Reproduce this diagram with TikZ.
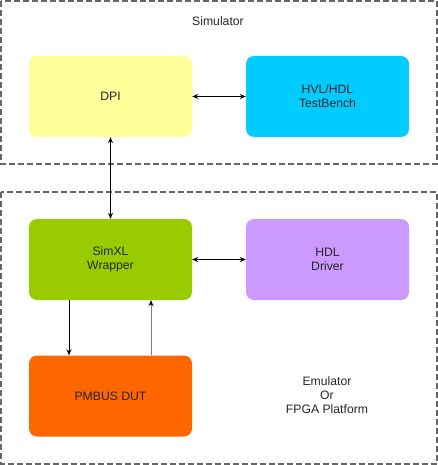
\documentclass[tikz,border=0pt]{standalone}
\usepackage{fontspec}
\setmainfont{Liberation Sans}
\usetikzlibrary{arrows.meta,positioning}
\definecolor{dpiyellow}{HTML}{FFFF99}
\definecolor{tbblue}{HTML}{00CCFF}
\definecolor{wrapgreen}{HTML}{99CC00}
\definecolor{drvpurple}{HTML}{CC99FF}
\definecolor{dutorange}{HTML}{FF6600}
\definecolor{framegray}{HTML}{666666}
\tikzset{
  block/.style={minimum width=163pt, minimum height=81pt, rounded corners=8pt,
    align=center, font=\fontsize{12.2}{14}\selectfont, text=black!85},
  frame/.style={draw=framegray, line width=1.1pt, dash pattern=on 6pt off 3pt},
  link/.style={line width=0.8pt, {Stealth[length=6pt,width=5pt]}-{Stealth[length=6pt,width=5pt]}},
  onelink/.style={line width=0.8pt, -{Stealth[length=6pt,width=5pt]}},
  lbl/.style={align=center, font=\fontsize{12.2}{14}\selectfont, text=black!85}
}
\begin{document}
\begin{tikzpicture}[x=1pt,y=-1pt]
        \useasboundingbox (0,0) rectangle (438,465);
        % Dashed frames
        \draw[frame] (1,1) rectangle (437,164);
        \draw[frame] (1,192) rectangle (437,464);
        % Frame labels
        \node[lbl] (sim) at (218,21) {Simulator};
        \node[lbl] (emu) at (327,395) {Emulator\\Or\\FPGA Platform};
        % Blocks
        \node[block, fill=dpiyellow] (dpi) at (110.5,96.5) {DPI};
        \node[block, fill=tbblue] (tb) at (327.5,96.5) {HVL/HDL\\TestBench};
        \node[block, fill=wrapgreen] (wrap) at (110.5,259.5) {SimXL\\Wrapper};
        \node[block, fill=drvpurple] (drv) at (327.5,259.5) {HDL\\Driver};
        \node[block, fill=dutorange] (dut) at (110.5,396) {PMBUS DUT};
        % Connectors
        \draw[link] (dpi) -- (tb);
        \draw[link] (dpi) -- (wrap);
        \draw[link] (wrap) -- (drv);
        \draw[onelink] ([xshift=-41.5pt]wrap.south) -- ([xshift=-41.5pt]dut.north);
        \draw[onelink, draw=black!50, {Stealth[length=6pt,width=5pt,black]}-] ([xshift=40.5pt]wrap.south) -- ([xshift=40.5pt]dut.north);
\end{tikzpicture}
\end{document}
